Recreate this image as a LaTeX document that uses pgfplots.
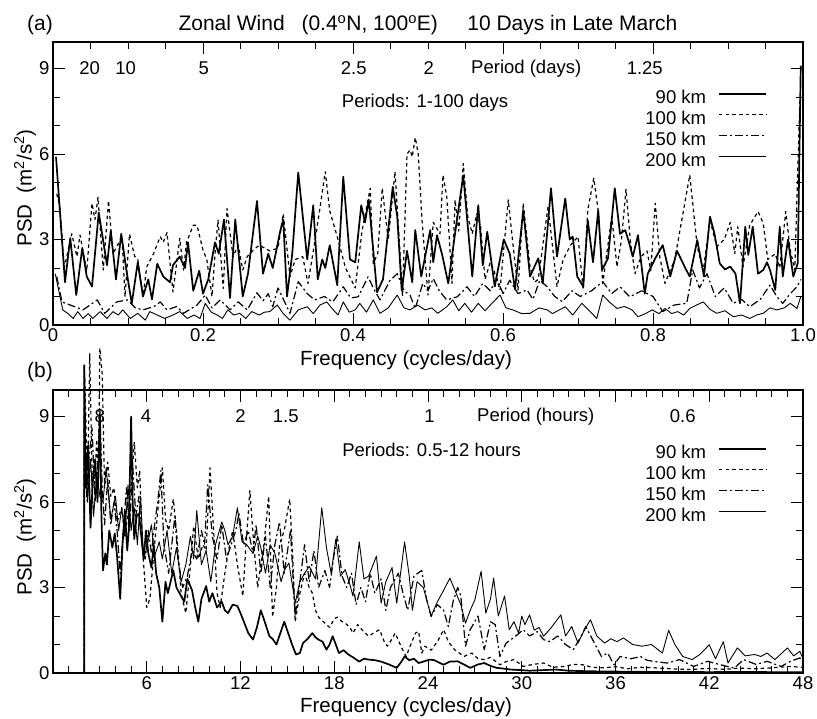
\documentclass[border=0pt]{standalone}
\usepackage{pgfplots}
\pgfplotsset{compat=1.18}
\usepackage{fontspec}
\setmainfont{Liberation Sans}
\newcommand\fa{\fontsize{18.5}{20}\selectfont}
\newcommand\fb{\fontsize{20.5}{23}\selectfont}
\newcommand\ft{\fontsize{21}{24}\selectfont}
\begin{document}
\begin{tikzpicture}
\useasboundingbox (0pt,0pt) rectangle (817pt,718pt);
\pgfplotsset{
  psd/.style={
    scale only axis, width=750pt, height=283pt,
    ymin=0, ymax=9.93, ytick={0,3,6,9}, minor y tick num=2,
    tick align=inside, xtick pos=both, ytick pos=both,
    xticklabel pos=left, yticklabel pos=left,
    major tick length=12pt, minor tick length=7pt,
    axis line style={line width=1.2pt},
    every tick/.style={black, line width=0.9pt},
    tick label style={font=\fa},
    /pgf/number format/assume math mode=true,
    yticklabels={0,3,6,9},
    clip=false, no markers,
    legend cell align=right, legend plot pos=right,
    legend image code/.code={\path (0pt,0pt); \draw[##1] (12pt,6.5pt) -- (59pt,6.5pt);},
    legend style={anchor=north east, draw=none, fill=none, font=\fa,
      inner sep=0pt, row sep=0pt,
      nodes={inner sep=0pt, text height=14pt, text depth=7pt}},
  },
  s90/.style={black, line width=1.7pt, line join=round},
  s100/.style={black, line width=1.2pt, dash pattern=on 3.5pt off 3.2pt, line join=round},
  s150/.style={black, line width=1.2pt, dash pattern=on 8pt off 3pt on 2pt off 3pt, line join=round},
  s200/.style={black, line width=0.9pt, line join=round},
}
% ---------------- panel (a)
\begin{axis}[psd, at={(53pt,393pt)}, anchor=south west,
  xmin=0, xmax=1, xtick={0,0.2,0.4,0.6,0.8,1.0}, minor x tick num=3,
  xticklabels={0,0.2,0.4,0.6,0.8,1.0},
  legend style={at={(axis description cs:0.952,0.832)}}]
\addplot[s90] coordinates {(0.004,5.9) (0.016,1.5) (0.023,3.05) (0.031,1.05) (0.039,2.7) (0.045,1.7) (0.052,1.35) (0.061,3.95) (0.072,2.1) (0.077,3.3) (0.084,1.6) (0.091,3.2) (0.098,1.9) (0.105,0.75) (0.113,2.2) (0.120,1.0) (0.127,1.6) (0.132,0.9) (0.139,2.15) (0.147,1.7) (0.156,1.5) (0.160,2.1) (0.169,2.4) (0.176,2.0) (0.180,2.9) (0.187,1.2) (0.195,1.9) (0.200,1.1) (0.207,1.6) (0.216,2.9) (0.221,2.5) (0.228,3.7) (0.236,0.95) (0.243,3.7) (0.253,1.0) (0.260,1.8) (0.272,4.35) (0.280,1.8) (0.287,2.5) (0.293,2.0) (0.303,3.3) (0.307,3.7) (0.312,1.0) (0.319,2.5) (0.327,5.35) (0.339,2.3) (0.347,4.2) (0.353,1.6) (0.359,2.3) (0.363,2.0) (0.369,2.8) (0.379,1.4) (0.387,5.2) (0.396,2.3) (0.403,2.2) (0.411,4.2) (0.416,3.6) (0.421,4.4) (0.432,1.15) (0.440,1.6) (0.453,4.85) (0.459,3.8) (0.465,1.2) (0.472,2.6) (0.479,1.5) (0.483,3.33) (0.491,1.7) (0.503,3.33) (0.507,2.2) (0.512,3.15) (0.519,2.45) (0.527,1.46) (0.536,3.2) (0.547,5.25) (0.559,1.7) (0.567,4.2) (0.573,2.1) (0.579,3.27) (0.589,1.35) (0.601,3.0) (0.609,2.5) (0.616,1.25) (0.627,4.03) (0.636,1.7) (0.647,2.34) (0.653,1.46) (0.664,4.8) (0.672,2.4) (0.683,4.44) (0.689,3.0) (0.693,3.1) (0.699,1.7) (0.707,1.35) (0.713,3.68) (0.720,2.2) (0.727,4.03) (0.732,1.93) (0.740,2.34) (0.749,4.8) (0.756,3.2) (0.763,3.33) (0.768,2.9) (0.773,2.4) (0.780,3.15) (0.789,1.1) (0.793,1.8) (0.803,2.34) (0.813,2.8) (0.823,1.7) (0.832,2.6) (0.843,2.0) (0.849,1.7) (0.859,2.98) (0.868,1.7) (0.876,3.8) (0.882,3.2) (0.889,2.16) (0.896,1.95) (0.903,2.05) (0.910,1.8) (0.916,0.76) (0.923,3.45) (0.927,2.46) (0.933,3.45) (0.940,1.8) (0.947,1.93) (0.952,2.2) (0.956,1.93) (0.963,1.23) (0.969,3.45) (0.973,1.7) (0.980,3.0) (0.987,1.7) (0.993,2.16) (0.997,9.1)};
\addlegendentry{90 km}
\addplot[s100] coordinates {(0.005,4.6) (0.009,4.2) (0.015,2.0) (0.025,3.2) (0.032,2.4) (0.036,3.16) (0.045,1.9) (0.052,4.27) (0.056,3.7) (0.060,4.48) (0.067,1.93) (0.074,4.36) (0.080,2.5) (0.092,3.1) (0.096,0.99) (0.102,3.19) (0.109,2.4) (0.113,2.3) (0.120,1.0) (0.125,2.04) (0.134,2.5) (0.143,3.1) (0.147,2.9) (0.152,3.24) (0.160,1.16) (0.169,3.04) (0.174,1.93) (0.178,2.9) (0.187,3.5) (0.192,3.5) (0.200,2.63) (0.205,2.3) (0.212,1.0) (0.216,2.5) (0.220,3.68) (0.227,1.28) (0.232,4.09) (0.240,2.4) (0.247,2.8) (0.253,1.93) (0.259,2.4) (0.267,2.63) (0.275,2.8) (0.289,2.6) (0.300,2.7) (0.307,3.9) (0.316,1.7) (0.323,2.3) (0.333,2.4) (0.340,1.46) (0.352,3.4) (0.363,5.38) (0.369,4.0) (0.379,3.1) (0.390,2.0) (0.403,1.3) (0.412,3.3) (0.423,4.8) (0.427,2.16) (0.433,2.5) (0.439,4.8) (0.447,2.98) (0.456,5.38) (0.463,2.4) (0.466,1.0) (0.472,6.0) (0.476,6.14) (0.479,5.9) (0.483,6.58) (0.487,6.0) (0.492,3.68) (0.500,1.05) (0.507,3.6) (0.516,3.2) (0.520,5.26) (0.525,4.5) (0.532,1.46) (0.536,4.39) (0.541,3.3) (0.547,5.67) (0.553,3.8) (0.559,3.2) (0.565,3.9) (0.570,3.5) (0.576,1.6) (0.583,2.2) (0.588,1.9) (0.596,1.23) (0.607,4.39) (0.613,2.9) (0.620,1.23) (0.627,4.27) (0.636,2.04) (0.642,1.5) (0.647,1.6) (0.660,4.15) (0.665,3.0) (0.672,1.35) (0.680,2.28) (0.690,2.8) (0.700,3.1) (0.707,1.23) (0.713,4.03) (0.721,5.15) (0.727,4.0) (0.733,1.46) (0.745,3.8) (0.752,2.04) (0.758,3.0) (0.764,4.76) (0.770,2.9) (0.776,1.8) (0.784,2.4) (0.792,2.6) (0.797,1.9) (0.803,4.27) (0.809,2.4) (0.816,1.46) (0.829,2.3) (0.840,3.92) (0.849,5.26) (0.859,2.75) (0.867,1.9) (0.876,3.68) (0.885,2.75) (0.895,3.0) (0.903,3.6) (0.909,2.5) (0.913,3.45) (0.920,2.04) (0.929,3.5) (0.940,3.98) (0.947,3.57) (0.953,2.3) (0.963,2.5) (0.969,2.0) (0.977,3.98) (0.983,2.63) (0.989,1.93) (0.996,8.0)};
\addlegendentry{100 km}
\addplot[s150] coordinates {(0.005,1.7) (0.012,0.81) (0.023,0.7) (0.040,0.53) (0.059,0.88) (0.069,0.41) (0.085,0.81) (0.099,0.88) (0.110,0.6) (0.120,0.53) (0.135,0.65) (0.143,0.81) (0.152,0.53) (0.165,0.65) (0.174,0.41) (0.192,0.7) (0.203,1.05) (0.212,0.6) (0.223,0.88) (0.236,0.53) (0.247,0.81) (0.259,0.53) (0.272,1.13) (0.280,0.85) (0.287,1.1) (0.293,0.64) (0.300,1.3) (0.309,0.8) (0.316,0.41) (0.327,1.52) (0.339,1.1) (0.349,0.88) (0.362,1.0) (0.373,0.81) (0.387,1.34) (0.397,0.95) (0.407,0.99) (0.420,1.69) (0.428,1.25) (0.436,0.88) (0.449,1.55) (0.459,1.8) (0.468,1.2) (0.476,1.05) (0.483,0.58) (0.493,1.46) (0.500,1.2) (0.507,1.63) (0.515,1.2) (0.525,0.88) (0.539,0.99) (0.552,1.34) (0.562,1.0) (0.573,1.46) (0.583,1.2) (0.592,1.63) (0.600,1.1) (0.609,1.57) (0.620,1.1) (0.632,1.23) (0.640,0.9) (0.649,1.57) (0.659,1.34) (0.669,1.0) (0.679,0.82) (0.692,1.2) (0.703,1.0) (0.718,1.2) (0.733,1.52) (0.745,1.1) (0.756,1.34) (0.769,0.99) (0.785,1.2) (0.800,1.0) (0.813,0.47) (0.828,0.7) (0.845,0.76) (0.853,1.93) (0.862,1.3) (0.872,1.8) (0.883,1.0) (0.895,1.3) (0.907,0.76) (0.918,0.9) (0.929,0.64) (0.943,0.9) (0.956,1.4) (0.965,1.0) (0.973,0.76) (0.983,1.1) (0.992,1.34) (0.997,1.6)};
\addlegendentry{150 km}
\addplot[s200] coordinates {(0.003,1.8) (0.013,0.53) (0.020,0.4) (0.027,0.23) (0.033,0.47) (0.040,0.23) (0.047,0.4) (0.053,0.23) (0.063,0.47) (0.072,0.23) (0.080,0.47) (0.087,0.35) (0.093,0.53) (0.103,0.23) (0.113,0.41) (0.123,0.17) (0.129,0.47) (0.139,0.35) (0.149,0.23) (0.160,0.35) (0.169,0.47) (0.179,0.23) (0.188,0.35) (0.196,0.23) (0.203,0.76) (0.211,0.45) (0.219,0.35) (0.226,0.23) (0.233,0.53) (0.241,0.35) (0.249,0.41) (0.257,0.23) (0.265,0.47) (0.275,0.35) (0.282,0.45) (0.289,0.47) (0.299,0.7) (0.307,0.4) (0.316,0.17) (0.327,0.53) (0.339,0.64) (0.347,0.4) (0.356,0.7) (0.365,0.81) (0.373,0.55) (0.380,0.35) (0.387,0.81) (0.395,0.45) (0.403,0.53) (0.409,0.76) (0.418,0.45) (0.427,0.88) (0.436,0.41) (0.447,0.6) (0.459,1.05) (0.468,0.6) (0.476,0.53) (0.486,0.7) (0.496,0.53) (0.505,0.6) (0.513,0.41) (0.525,0.64) (0.533,0.88) (0.541,0.5) (0.549,0.76) (0.558,0.45) (0.567,0.76) (0.576,0.5) (0.587,0.81) (0.596,1.05) (0.604,0.6) (0.613,0.53) (0.625,0.4) (0.636,0.41) (0.648,0.6) (0.659,0.53) (0.666,0.4) (0.683,0.64) (0.693,0.35) (0.705,0.76) (0.715,0.5) (0.725,0.23) (0.733,1.05) (0.742,0.8) (0.752,0.58) (0.762,0.65) (0.772,0.53) (0.780,0.29) (0.790,0.4) (0.799,0.53) (0.808,0.4) (0.816,0.58) (0.825,0.4) (0.833,0.47) (0.841,0.35) (0.849,0.58) (0.858,0.7) (0.867,0.81) (0.876,0.55) (0.885,0.41) (0.896,0.5) (0.907,0.29) (0.918,0.35) (0.929,0.23) (0.938,0.35) (0.947,0.41) (0.956,0.6) (0.965,0.53) (0.975,0.6) (0.983,0.76) (0.992,0.58) (0.997,1.0)};
\addlegendentry{200 km}
\node[font=\fa] at (axis cs:0.049,9) {20};
\node[font=\fa] at (axis cs:0.097,9) {10};
\node[font=\fa] at (axis cs:0.201,9) {5};
\node[font=\fa] at (axis cs:0.401,9) {2.5};
\node[font=\fa] at (axis cs:0.501,9) {2};
\node[font=\fa] at (axis cs:0.631,9) {Period (days)};
\node[font=\fa] at (axis cs:0.789,9) {1.25};
\node[font=\fa, anchor=west, inner sep=0pt] at (axis cs:0.385,7.79) {Periods: 1-100 days};
\end{axis}
% ---------------- panel (b)
\begin{axis}[psd, at={(53pt,45pt)}, anchor=south west,
  xmin=0, xmax=48, xtick={0,6,...,48}, minor x tick num=5,
  xticklabels={,6,12,18,24,30,36,42,48},
  legend style={at={(axis description cs:0.952,0.807)}}]
\addplot[s90] coordinates {(2.0,0) (2.0,10.8) (2.1,6.5) (2.25,8.0) (2.4,5.1) (2.55,6.8) (2.7,7.5) (2.85,6.0) (3.0,9.0) (3.1,5.5) (3.2,3.6) (3.35,4.2) (3.45,3.8) (3.6,5.0) (3.8,4.4) (3.95,4.9) (4.1,4.1) (4.3,2.6) (4.45,4.5) (4.6,5.7) (4.75,4.3) (4.85,5.0) (5.0,9.0) (5.1,6.0) (5.2,4.7) (5.35,5.5) (5.5,5.6) (5.65,4.8) (5.8,4.0) (5.95,5.0) (6.1,4.2) (6.3,3.7) (6.45,4.5) (6.6,3.5) (6.8,3.0) (7.0,1.8) (7.2,3.2) (7.35,2.8) (7.7,3.6) (7.9,3.0) (8.2,2.7) (8.4,2.5) (8.6,3.3) (8.9,2.9) (9.1,2.3) (9.3,1.8) (9.5,2.6) (9.8,3.05) (10.0,2.5) (10.2,2.8) (10.5,2.3) (10.8,2.5) (11.0,2.2) (11.2,2.1) (11.5,2.4) (11.8,2.35) (12.0,2.1) (12.25,1.75) (12.5,1.4) (12.8,1.17) (13.05,1.6) (13.3,2.2) (13.55,1.8) (13.85,1.29) (14.05,1.2) (14.3,1.0) (14.55,1.4) (14.8,1.8) (15.05,1.4) (15.3,1.0) (15.55,0.65) (15.8,0.7) (16.0,1.05) (16.3,1.2) (16.6,1.4) (16.8,1.25) (17.0,1.17) (17.25,1.1) (17.5,0.82) (17.7,1.0) (17.9,1.29) (18.1,1.0) (18.3,0.7) (18.6,0.8) (18.9,0.65) (19.2,0.55) (19.6,0.4) (19.9,0.5) (20.2,0.47) (20.6,0.45) (21.0,0.4) (21.5,0.3) (22.0,0.18) (22.3,0.4) (22.5,0.58) (22.8,0.45) (23.1,0.5) (23.4,0.35) (23.7,0.4) (24.1,0.47) (24.4,0.45) (25.0,0.29) (25.4,0.4) (25.9,0.41) (26.3,0.3) (26.7,0.18) (27.2,0.3) (27.6,0.35) (28.0,0.25) (28.4,0.18) (28.9,0.15) (29.3,0.12) (30.0,0.1) (30.5,0.08) (31.3,0.1) (32.2,0.12) (33.0,0.08) (34.4,0.06) (36.0,0.05) (38.0,0.04) (40,0.04) (42,0.03) (44,0.04) (46,0.03) (48,0.03)};
\addlegendentry{90 km}
\addplot[s100] coordinates {(2.0,0) (2.0,10.8) (2.1,9.0) (2.2,6.0) (2.35,11.2) (2.5,7.0) (2.65,6.5) (2.8,8.2) (2.9,7.0) (3.0,11.4) (3.15,10.5) (3.3,6.5) (3.5,7.4) (3.7,6.2) (3.9,6.5) (4.1,5.3) (4.4,5.8) (4.6,4.8) (4.8,5.6) (5.0,6.5) (5.2,8.1) (5.4,6.5) (5.55,7.1) (5.75,4.2) (6.0,2.3) (6.2,2.6) (6.5,4.5) (6.8,6.2) (7.0,7.2) (7.2,5.4) (7.4,5.0) (7.7,6.1) (7.9,5.0) (8.2,2.8) (8.5,2.1) (8.8,3.8) (9.0,5.15) (9.3,4.0) (9.6,4.5) (9.8,4.3) (10.05,7.2) (10.3,4.8) (10.5,2.8) (10.7,2.3) (11.0,3.5) (11.2,4.2) (11.5,5.0) (11.8,3.8) (12.15,2.7) (12.35,4.5) (12.6,6.4) (12.85,4.5) (13.1,3.0) (13.3,3.8) (13.5,4.5) (13.8,6.2) (14.05,1.96) (14.3,3.0) (14.5,4.5) (14.8,5.0) (15.15,6.1) (15.35,4.0) (15.5,1.8) (15.8,2.8) (16.1,3.5) (16.4,3.0) (16.6,2.8) (16.8,2.2) (17.0,1.96) (17.3,1.8) (17.7,1.6) (18.0,1.9) (18.2,1.96) (18.5,1.8) (18.7,1.75) (19.0,1.6) (19.2,1.4) (19.5,1.7) (19.8,1.5) (20.2,1.29) (20.5,1.4) (20.9,1.52) (21.2,1.1) (21.4,0.94) (21.7,1.2) (21.9,1.4) (22.3,0.9) (22.6,0.58) (22.9,1.0) (23.2,1.4) (23.4,1.46) (23.6,0.7) (23.8,0.94) (24.2,0.8) (24.6,1.1) (25.0,1.52) (25.3,1.1) (25.7,0.82) (26.0,0.7) (26.3,0.58) (26.8,0.7) (27.2,0.5) (27.6,0.47) (28.0,0.55) (28.6,0.29) (29.0,0.4) (29.5,0.47) (30.1,0.23) (30.7,0.3) (31.4,0.35) (32.0,0.2) (32.7,0.23) (33.3,0.3) (33.9,0.29) (34.5,0.2) (35.2,0.18) (36.0,0.22) (36.8,0.15) (37.6,0.2) (38.6,0.18) (39.5,0.15) (40.8,0.12) (41.8,0.16) (43,0.13) (44,0.17) (45,0.15) (46,0.18) (47.1,0.23) (48,0.2)};
\addlegendentry{100 km}
\addplot[s150] coordinates {(2.0,0) (2.0,9.0) (2.15,6.2) (2.3,7.5) (2.5,8.6) (2.7,6.0) (2.85,7.0) (3.0,9.3) (3.15,6.5) (3.3,5.2) (3.5,6.8) (3.7,5.2) (3.9,6.0) (4.1,5.0) (4.3,3.5) (4.5,5.0) (4.7,6.5) (4.9,5.0) (5.1,7.3) (5.3,5.5) (5.5,6.2) (5.7,4.5) (5.9,4.0) (6.1,5.0) (6.3,4.2) (6.5,5.2) (6.7,6.0) (6.9,7.1) (7.1,4.5) (7.4,3.5) (7.6,4.5) (7.8,5.5) (8.0,4.0) (8.3,3.0) (8.6,3.4) (8.9,4.3) (9.2,4.0) (9.5,5.0) (9.7,4.5) (9.9,6.6) (10.2,4.8) (10.5,4.0) (10.8,5.2) (11.1,4.0) (11.4,4.5) (11.7,5.0) (11.9,5.6) (12.2,4.5) (12.5,5.0) (12.8,4.2) (13.0,5.2) (13.3,3.5) (13.6,4.8) (13.9,3.0) (14.2,4.5) (14.5,5.3) (14.8,3.5) (15.2,5.0) (15.5,2.0) (15.8,3.2) (16.1,4.5) (16.4,3.2) (16.7,4.3) (17.0,3.0) (17.4,3.6) (17.7,3.0) (18.0,4.2) (18.2,4.8) (18.5,3.4) (18.8,3.0) (19.1,3.5) (19.4,2.4) (19.7,3.0) (20.0,2.5) (20.3,3.5) (20.6,2.8) (21.0,3.3) (21.3,2.2) (21.6,3.0) (22.1,3.5) (22.4,2.8) (22.7,2.2) (23.1,3.4) (23.6,3.6) (23.9,2.6) (24.2,1.98) (24.6,2.4) (25.0,2.2) (25.3,1.63) (25.6,2.5) (25.9,3.0) (26.1,2.7) (26.4,0.94) (26.7,1.52) (27.2,2.0) (27.6,0.82) (28.0,1.8) (28.3,1.7) (28.6,0.58) (29.0,1.05) (29.6,1.29) (30.1,1.52) (30.5,1.3) (31.0,1.45) (31.4,1.17) (31.8,1.1) (32.3,1.3) (32.8,1.0) (33.3,0.82) (33.8,1.29) (34.1,1.63) (34.6,1.1) (35.1,0.58) (35.5,0.7) (35.9,0.29) (36.3,0.58) (37.0,0.5) (37.6,0.58) (38.0,0.45) (38.4,0.41) (39.3,0.35) (40.1,0.47) (41.0,0.23) (41.9,0.41) (42.7,0.29) (43.6,0.17) (44.2,0.47) (45.0,0.3) (45.7,0.41) (46.6,0.23) (47.2,0.41) (47.8,0.53) (48,0.4)};
\addlegendentry{150 km}
\addplot[s200] coordinates {(2.0,0) (2.0,8.5) (2.2,6.0) (2.4,7.5) (2.6,5.5) (2.8,7.0) (3.0,6.2) (3.2,6.0) (3.4,7.2) (3.7,5.4) (4.0,6.2) (4.2,5.0) (4.4,5.8) (4.6,4.8) (4.8,6.6) (5.0,5.0) (5.2,5.8) (5.4,4.5) (5.6,6.2) (5.8,4.0) (6.0,4.4) (6.3,5.2) (6.5,4.1) (6.8,4.6) (7.0,4.0) (7.3,5.0) (7.6,3.5) (7.9,4.4) (8.2,3.2) (8.5,3.8) (8.8,4.8) (9.0,4.0) (9.2,5.7) (9.5,3.8) (9.8,4.3) (10.1,3.2) (10.4,4.5) (10.8,5.3) (11.0,5.0) (11.2,4.5) (11.5,4.8) (11.8,5.8) (12.1,4.6) (12.4,4.5) (12.8,4.2) (13.1,4.8) (13.3,4.4) (13.6,3.5) (13.9,4.5) (14.2,4.2) (14.6,3.2) (14.8,3.6) (15.1,3.86) (15.5,2.45) (15.8,3.2) (16.1,3.5) (16.4,3.74) (16.8,3.3) (17.2,5.8) (17.5,4.4) (17.8,3.5) (18.1,4.7) (18.4,3.4) (18.7,3.63) (19.0,3.1) (19.2,2.7) (19.6,4.6) (19.9,3.3) (20.2,3.4) (20.7,4.1) (21.0,2.45) (21.3,3.2) (21.7,3.7) (22.0,2.45) (22.5,4.6) (22.8,3.4) (23.0,2.2) (23.3,3.2) (23.7,3.0) (24.2,2.0) (24.6,2.5) (25.0,2.9) (25.4,3.33) (25.8,2.8) (26.1,2.4) (26.4,1.75) (26.7,2.2) (27.0,2.57) (27.4,3.57) (27.7,2.1) (28.0,2.6) (28.2,3.33) (28.5,2.0) (28.9,2.7) (29.2,1.52) (29.5,1.8) (29.8,1.4) (30.0,2.0) (30.2,1.7) (30.5,2.04) (30.8,1.5) (31.1,1.6) (31.4,1.29) (31.9,1.6) (32.5,2.04) (32.8,1.3) (33.2,1.63) (33.6,1.05) (34.0,1.5) (34.4,1.87) (34.8,1.3) (35.3,1.05) (35.7,1.2) (36.1,1.1) (36.5,1.23) (37.1,1.0) (37.7,0.94) (38.3,1.0) (39.0,0.7) (39.4,1.5) (39.8,1.0) (40.3,0.58) (40.9,0.47) (41.4,0.65) (42.0,0.99) (42.4,0.5) (42.9,1.1) (43.2,0.35) (43.8,0.88) (44.3,0.6) (44.9,0.65) (45.3,0.58) (45.7,0.7) (46.2,0.47) (47.0,0.88) (47.4,0.6) (47.8,0.76) (48.0,0.5)};
\addlegendentry{200 km}
\node[font=\fa] at (axis cs:3.0,9) {8};
\node[font=\fa] at (axis cs:5.95,9) {4};
\node[font=\fa] at (axis cs:12.0,9) {2};
\node[font=\fa] at (axis cs:14.9,9) {1.5};
\node[font=\fa] at (axis cs:24.1,9) {1};
\node[font=\fa] at (axis cs:30.9,9) {Period (hours)};
\node[font=\fa] at (axis cs:40.3,9) {0.6};
\node[font=\fa, anchor=west, inner sep=0pt] at (axis cs:18.5,7.82) {Periods: 0.5-12 hours};
\end{axis}
% ---------------- free text
\node[font=\ft] at (40pt,693pt) {(a)};
\node[font=\ft] at (40pt,346pt) {(b)};
\node[font=\ft] at (428pt,693pt) {Zonal Wind\hspace{0.8em}(0.4\textsuperscript{o}N, 100\textsuperscript{o}E)\hspace{1.4em}10 Days in Late March};
\node[font=\fb, rotate=90] at (25pt,530pt) {PSD\ \ (m\textsuperscript{2}/s\textsuperscript{2})};
\node[font=\fb, rotate=90] at (25pt,181pt) {PSD\ \ (m\textsuperscript{2}/s\textsuperscript{2})};
\node[font=\fb] at (406pt,358pt) {Frequency (cycles/day)};
\node[font=\fb] at (406pt,11pt) {Frequency (cycles/day)};
\end{tikzpicture}
\end{document}
